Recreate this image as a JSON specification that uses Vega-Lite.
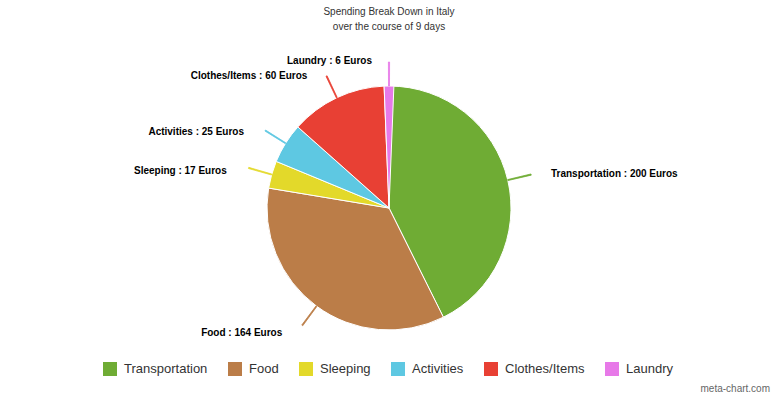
{
  "$schema": "https://vega.github.io/schema/vega-lite/v6.json",
  "width": 778,
  "height": 256,
  "autosize": {"type": "none"},
  "padding": {"top": 80, "bottom": 61, "left": 0, "right": 0},
  "background": "white",
  "title": {
    "text": ["Spending Break Down in Italy", "over the course of 9 days"],
    "fontSize": 10,
    "fontWeight": "normal",
    "color": "#333333",
    "font": "Liberation Sans",
    "lineHeight": 15,
    "anchor": "middle",
    "frame": "group",
    "offset": 24
  },
  "config": {"view": {"stroke": null}},
  "data": {
    "values": [
      {"category": "Transportation", "value": 200, "order": 1},
      {"category": "Food", "value": 164, "order": 2},
      {"category": "Sleeping", "value": 17, "order": 3},
      {"category": "Activities", "value": 25, "order": 4},
      {"category": "Clothes/Items", "value": 60, "order": 5},
      {"category": "Laundry", "value": 6, "order": 6}
    ]
  },
  "transform": [
    {"stack": "value", "groupby": [], "sort": [{"field": "order"}], "as": ["v0", "v1"]},
    {"calculate": "(datum.v0 + datum.v1) / 2", "as": "mid"},
    {"calculate": "datum.mid - 0.3", "as": "c0"},
    {"calculate": "datum.mid + 0.3", "as": "c1"},
    {"calculate": "datum.category + ' : ' + datum.value + ' Euros'", "as": "label"}
  ],
  "layer": [
    {
      "mark": {"type": "arc", "radius": 122, "stroke": "white", "strokeWidth": 1},
      "encoding": {
        "theta": {"field": "v0", "type": "quantitative", "stack": null, "scale": {"nice": false, "zero": true}},
        "theta2": {"field": "v1"},
        "color": {
          "field": "category",
          "type": "nominal",
          "scale": {
            "domain": ["Transportation", "Food", "Sleeping", "Activities", "Clothes/Items", "Laundry"],
            "range": ["#6fac34", "#bb7d48", "#e3d92a", "#5ec8e2", "#e84034", "#e779e8"]
          },
          "legend": {
            "title": null,
            "orient": "none",
            "legendX": 103,
            "legendY": 282,
            "direction": "horizontal",
            "columns": 6,
            "symbolType": "square",
            "symbolSize": 196,
            "symbolStrokeWidth": 0,
            "symbolOpacity": 1,
            "labelFont": "Liberation Sans",
            "labelFontSize": 13,
            "labelColor": "#333333",
            "labelOffset": 7,
            "columnPadding": 20,
            "labelLimit": 300
          }
        }
      }
    },
    {
      "mark": {"type": "arc", "radius": 122, "radius2": 146, "strokeWidth": 0.8},
      "encoding": {
        "theta": {"field": "c0", "type": "quantitative", "stack": null},
        "theta2": {"field": "c1"},
        "color": {"field": "category", "type": "nominal"},
        "stroke": {"field": "category", "type": "nominal", "legend": null,
          "scale": {
            "domain": ["Transportation", "Food", "Sleeping", "Activities", "Clothes/Items", "Laundry"],
            "range": ["#6fac34", "#bb7d48", "#e3d92a", "#5ec8e2", "#e84034", "#e779e8"]
          }
        }
      }
    },
    {
      "transform": [{"filter": "datum.mid < 236"}],
      "mark": {"type": "text", "radius": 151, "align": "left", "dx": 15, "dy": 1, "font": "Liberation Sans", "fontSize": 10, "fontWeight": "bold", "color": "#000000"},
      "encoding": {
        "theta": {"field": "mid", "type": "quantitative", "stack": null},
        "text": {"field": "label"}
      }
    },
    {
      "transform": [{"filter": "datum.mid >= 236"}],
      "mark": {"type": "text", "radius": 151, "align": "right", "dx": -17, "dy": 4, "font": "Liberation Sans", "fontSize": 10, "fontWeight": "bold", "color": "#000000"},
      "encoding": {
        "theta": {"field": "mid", "type": "quantitative", "stack": null},
        "text": {"field": "label"}
      }
    },
    {
      "data": {"values": [{"mark": "meta-chart.com"}]},
      "mark": {"type": "text", "align": "right", "baseline": "middle", "font": "Liberation Sans", "fontSize": 10, "color": "#666666"},
      "encoding": {
        "x": {"value": 770},
        "y": {"value": 309},
        "text": {"field": "mark"}
      }
    }
  ]
}
